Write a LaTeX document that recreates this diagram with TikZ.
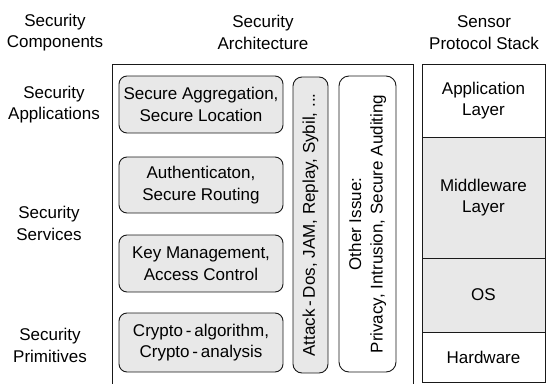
\documentclass[tikz,border=0pt]{standalone}
\usepackage{fontspec}
\setmainfont{Liberation Sans}
\begin{document}
\begin{tikzpicture}[x=1pt,y=-1pt,
  every node/.style={font=\fontsize{17}{21.5}\selectfont, align=center, inner sep=0pt},
  lbl/.style={},
  gbox/.style={draw=black!90, line width=0.9pt, fill=black!9, rounded corners=8pt, minimum width=164pt},
  vbar/.style={draw=black!90, line width=0.9pt, rounded corners=9pt, rotate=90, minimum width=296pt},
  layer/.style={draw=black!90, line width=0.9pt, minimum width=123pt},
  frame/.style={draw=black!90, line width=0.9pt}
]
\useasboundingbox (0,0) rectangle (549,383);
% headers
\node[lbl] (h1) at (55,32.5) {Security\\Components};
\node[lbl] (h2) at (263,32.5) {Security\\Architecture};
\node[lbl] (h3) at (484,32.5) {Sensor\\Protocol Stack};
% left labels
\node[lbl] (l1) at (54,104.5) {Security\\Applications};
\node[lbl] (l2) at (49,223.5) {Security\\Services};
\node[lbl] (l3) at (50,345.5) {Security\\Primitives};
% architecture frame
\node[frame, minimum width=301pt, minimum height=320pt] (arch) at (262.5,224) {};
% gray boxes
\node[gbox, minimum height=57pt] (b1) at (201,104.5) {Secure Aggregation,\\Secure Location};
\node[gbox, minimum height=56pt] (b2) at (201,185) {Authenticaton,\\Secure Routing};
\node[gbox, minimum height=57pt] (b3) at (201,263.5) {Key Management,\\Access Control};
\node[gbox, minimum height=59pt] (b4) at (201,342.5) {Crypto\,-\,algorithm,\\Crypto\,-\,analysis};
% vertical bars
\node[vbar, fill=black!9, minimum height=35pt] (att) at (310.5,225) {Attack\,-\,Dos, JAM, Replay, Sybil, ...};
\node[vbar, fill=white, minimum height=57pt, rounded corners=10pt] (oth) at (367.5,224) {Other Issue:\\Privacy, Intrusion, Secure Auditing};
% protocol stack
\node[layer, fill=white, minimum height=73pt] (app) at (483.5,100.5) {Application\\Layer};
\node[layer, fill=black!9, minimum height=121pt] (mid) at (483.5,197.5) {Middleware\\Layer};
\node[layer, fill=black!9, minimum height=74pt] (os) at (483.5,295) {OS};
\node[layer, fill=white, minimum height=50pt] (hw) at (483.5,357) {Hardware};
\end{tikzpicture}
\end{document}
